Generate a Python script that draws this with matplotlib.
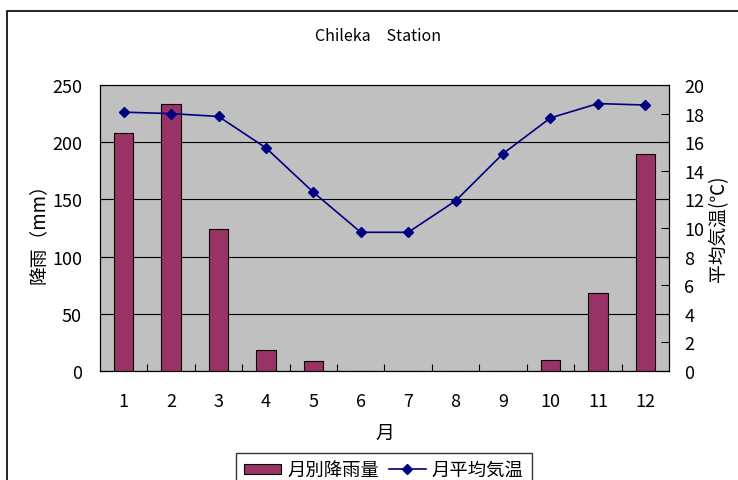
import numpy as np
import matplotlib
matplotlib.use("Agg")
from matplotlib import pyplot as plt
from matplotlib.patches import Rectangle

plt.rcParams['font.family'] = ['Noto Sans CJK JP', 'DejaVu Sans']

months = ["1", "2", "3", "4", "5", "6", "7", "8", "9", "10", "11", "12"]
rain = [208, 233, 124, 18, 8.5, 0, 0, 0, 0, 10, 68, 190]
temp = [18.1, 18.0, 17.8, 15.6, 12.5, 9.7, 9.7, 11.9, 15.2, 17.7, 18.7, 18.6]

W, H = 738, 481
fig = plt.figure(figsize=(W / 100, H / 100), dpi=100)

# Outer chart frame (cut off at right and bottom like the reference)
fig.patches.append(Rectangle((7 / W, -0.1), 1.0, 1 - 12 / H + 0.1, transform=fig.transFigure,
                             fill=False, edgecolor="black", linewidth=1.2))

ax = fig.add_axes([100 / W, 1 - 372 / H, 569 / W, 286 / H])
ax.set_facecolor("#C0C0C0")
x = np.arange(len(months))
bars = ax.bar(x, rain, width=0.41, color="#993366", edgecolor="black", linewidth=0.8,
              label="月別降雨量", zorder=3)
ax.set_xlim(-0.5, len(months) - 0.5)
ax.set_ylim(0, 250)
ax.set_yticks(np.arange(0, 251, 50))
ax.yaxis.grid(True, color="black", linewidth=0.8)
ax.set_axisbelow(True)
ax.set_xticks(x)
ax.set_xticklabels(months)
ax.set_xticks(np.arange(0.5, len(months) - 0.5, 1), minor=True)
ax.tick_params(axis="x", which="major", length=0, pad=15, labelsize=13)
ax.tick_params(axis="x", which="minor", direction="in", length=5, width=0.8)
ax.tick_params(axis="y", direction="in", length=4, labelsize=13, pad=13)
ax.set_xlabel("月", fontsize=13.5, labelpad=9)
ax.set_ylabel("降雨（mm）", fontsize=13.5, labelpad=2)
for s in ["left", "bottom", "right"]:
    ax.spines[s].set_color("black")
ax.spines["top"].set_color("#808080")

ax2 = ax.twinx()
line, = ax2.plot(x, temp, color="#000080", marker="D", markersize=5.5, linewidth=1.2,
                 label="月平均気温", zorder=4)
ax2.set_ylim(0, 20)
ax2.set_yticks(np.arange(0, 21, 2))
ax2.tick_params(axis="y", direction="in", length=6, labelsize=13, pad=11)
ax2.set_ylabel("平均気温(℃)", fontsize=13.5, rotation=90, labelpad=3)
ax2.spines["right"].set_color("black")

fig.text(378 / W, 1 - 37 / H, "Chileka　Station", ha="center", va="center", fontsize=11.5)

leg = fig.legend(handles=[bars, line], loc="upper center", bbox_to_anchor=(384 / W, 1 - 454 / H),
                 ncol=2, frameon=True, fancybox=False, edgecolor="black", fontsize=13.2,
                 handlelength=2.0, handleheight=0.5, columnspacing=0.55, handletextpad=0.33,
                 borderpad=0.45, borderaxespad=0)
leg.get_frame().set_linewidth(1.0)

fig.savefig("out.png", dpi=100)
